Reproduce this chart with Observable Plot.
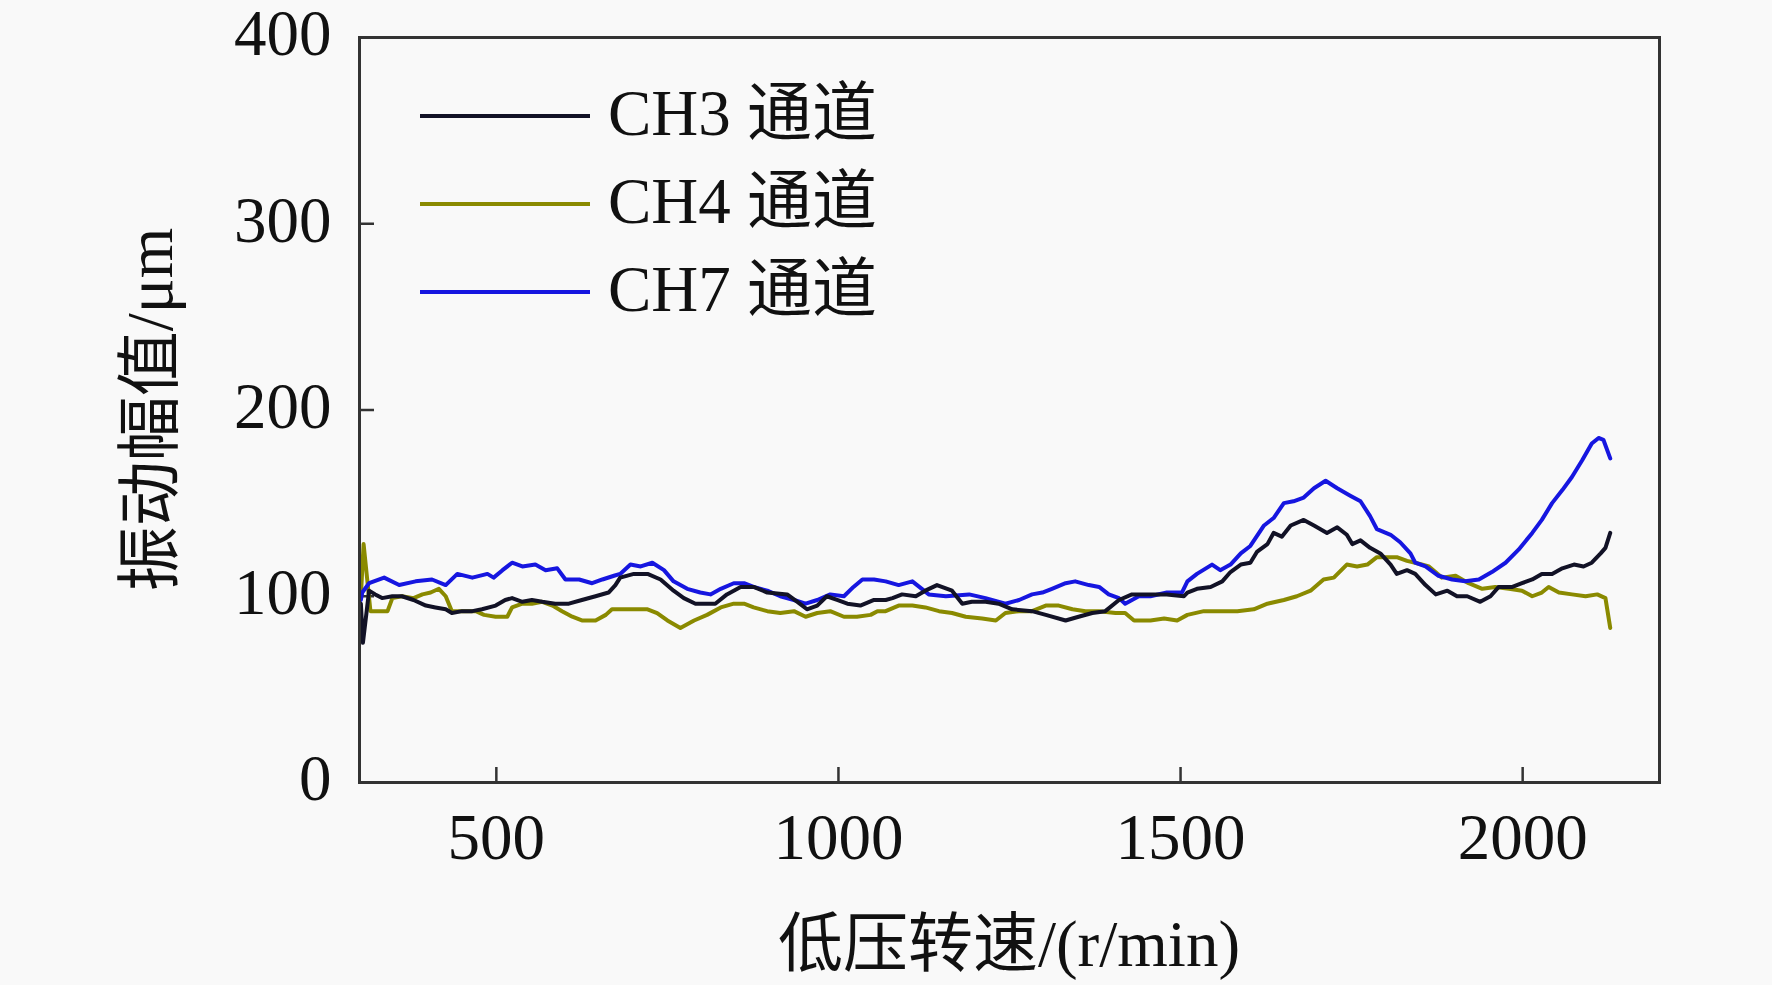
<!DOCTYPE html>
<html>
<head>
<meta charset="utf-8">
<script src="https://cdn.jsdelivr.net/npm/d3@7"></script>
<script src="https://cdn.jsdelivr.net/npm/@observablehq/plot@0.6"></script>
<style>
  html, body { margin: 0; padding: 0; background: #f9f9f9; }
  #chart svg { display: block; }
</style>
</head>
<body>
<div id="chart"></div>
<script>
// ---- data ----
const seriesNames = ["CH3 通道", "CH4 通道", "CH7 通道"];
const seriesColors = ["#121226", "#8a8a00", "#1616e0"];

const ch3Speed = [302,305,314,323,333,348,362,379,397,411,426,435,450,465,479,499,513,523,538,552,567,586,606,625,645,664,674,681,701,721,740,759,774,791,820,837,857,876,896,925,940,954,969,983,998,1013,1032,1052,1069,1079,1093,1113,1127,1144,1166,1181,1195,1215,1234,1254,1283,1303,1332,1351,1371,1390,1410,1429,1444,1456,1480,1505,1510,1524,1544,1561,1573,1588,1602,1612,1627,1636,1648,1661,1680,1695,1714,1729,1743,1751,1763,1777,1792,1807,1816,1831,1843,1858,1873,1890,1904,1919,1938,1953,1965,1985,1999,2014,2028,2043,2058,2075,2089,2101,2114,2121,2128];
const ch3Amp = [96,75,103,101,99,100,100,98,95,94,93,91,92,92,93,95,98,99,97,98,97,96,96,98,100,102,106,110,112,112,109,103,99,96,96,101,105,105,102,101,97,93,95,100,98,96,95,98,98,99,101,100,103,106,103,96,97,97,96,93,92,90,87,89,91,92,98,101,101,101,101,100,102,104,105,108,113,117,118,124,128,134,132,138,141,138,134,137,133,128,130,126,123,117,112,114,112,106,101,103,100,100,97,100,105,105,107,109,112,112,115,117,116,118,123,126,134];

const ch4Speed = [302,306,316,328,341,348,362,379,392,404,416,426,435,450,470,482,499,516,523,538,552,567,582,596,611,625,645,660,669,681,701,721,735,750,769,789,808,828,847,862,876,896,915,935,952,969,988,1008,1027,1047,1057,1069,1088,1108,1127,1147,1166,1186,1210,1230,1244,1264,1283,1303,1322,1342,1361,1381,1405,1419,1432,1444,1456,1476,1495,1510,1534,1558,1583,1607,1627,1651,1670,1690,1709,1724,1743,1758,1773,1787,1802,1816,1831,1843,1863,1882,1902,1921,1941,1960,1980,1999,2014,2028,2038,2053,2072,2092,2109,2121,2128];
const ch4Amp = [100,128,92,92,92,99,100,99,101,102,104,100,92,92,92,90,89,89,94,96,96,97,95,92,89,87,87,90,93,93,93,93,91,87,83,87,90,94,96,96,94,92,91,92,89,91,92,89,89,90,92,92,95,95,94,92,91,89,88,87,91,92,92,95,95,93,92,92,91,91,87,87,87,88,87,90,92,92,92,93,96,98,100,103,109,110,117,116,117,121,121,121,119,118,116,110,111,107,104,105,104,103,100,102,105,102,101,100,101,99,83];

const ch7Speed = [302,304,314,336,358,382,406,426,443,465,487,496,509,523,538,557,572,589,601,621,640,655,672,681,696,711,728,745,759,779,798,813,828,847,862,876,896,915,935,952,969,988,1008,1022,1035,1052,1069,1088,1108,1132,1157,1191,1215,1244,1264,1283,1298,1312,1332,1346,1366,1381,1395,1410,1419,1439,1456,1480,1502,1510,1524,1546,1558,1573,1588,1602,1622,1636,1651,1665,1680,1695,1712,1729,1748,1763,1777,1787,1807,1821,1836,1843,1858,1877,1897,1916,1936,1955,1975,1994,2014,2028,2043,2058,2072,2087,2101,2111,2118,2128];
const ch7Amp = [98,102,107,110,106,108,109,106,112,110,112,110,114,118,116,117,114,115,109,109,107,109,111,112,117,116,118,114,108,104,102,101,104,107,107,105,103,100,98,96,98,101,100,105,109,109,108,106,108,101,100,101,99,96,98,101,102,104,107,108,106,105,101,99,96,100,100,102,102,108,112,117,114,117,123,127,138,142,150,151,153,158,162,158,154,151,143,136,133,129,123,118,116,111,109,108,109,113,118,125,134,141,150,157,164,173,182,185,184,174];

const xTicks = [500, 1000, 1500, 2000];
const yTicks = [0, 100, 200, 300, 400];
const xTitle = "低压转速/(r/min)";
const yTitle = "振动幅值/μm";

// ---- build table ----
const rows = [];
[[ch3Speed, ch3Amp], [ch4Speed, ch4Amp], [ch7Speed, ch7Amp]].forEach(([xs, ys], i) => {
  xs.forEach((x, j) => rows.push({series: seriesNames[i], speed: x, amp: ys[j]}));
});

const W = 1772, H = 985;
const mL = 359, mR = 113, mT = 37, mB = 203;
const serif = "'Liberation Serif', 'Times New Roman', 'Noto Sans CJK SC', serif";
const FS = 65;
const plain = d => String(d);

const chart = Plot.plot({
  width: W, height: H,
  marginLeft: mL, marginRight: mR, marginTop: mT, marginBottom: mB,
  style: {background: "#f9f9f9", fontFamily: serif, color: "#111", overflow: "visible"},
  x: {domain: [300, 2200]},
  y: {domain: [0, 400]},
  color: {domain: seriesNames, range: seriesColors},
  marks: [
    Plot.axisX(xTicks, {tickSize: 0, tickPadding: 30, fontSize: FS, label: null, fill: "#111", tickFormat: plain}),
    Plot.axisX(xTicks, {tickSize: -15, tickFormat: () => "", label: null, stroke: "#333", strokeWidth: 2.5}),
    Plot.axisY(yTicks, {tickSize: 0, tickPadding: 28, fontSize: FS, label: null, dy: -3, fill: "#111", tickFormat: plain}),
    Plot.axisY(yTicks, {tickSize: -15, tickFormat: () => "", label: null, stroke: "#333", strokeWidth: 2.5}),
    Plot.line(rows.filter(d => d.series === seriesNames[1]), {x: "speed", y: "amp", stroke: "series", strokeWidth: 4, curve: "linear"}),
    Plot.line(rows.filter(d => d.series === seriesNames[2]), {x: "speed", y: "amp", stroke: "series", strokeWidth: 4, curve: "linear"}),
    Plot.line(rows.filter(d => d.series === seriesNames[0]), {x: "speed", y: "amp", stroke: "series", strokeWidth: 4, curve: "linear"}),
    Plot.frame({stroke: "#333", strokeWidth: 3})
  ]
});

const svg = d3.select(chart);

// axis titles
svg.append("text")
  .attr("x", mL + (W - mL - mR) / 2)
  .attr("y", 966)
  .attr("text-anchor", "middle")
  .attr("font-family", serif)
  .attr("font-size", FS)
  .attr("fill", "#111")
  .text(xTitle);

svg.append("text")
  .attr("transform", `translate(172, ${mT + (H - mT - mB) / 2}) rotate(-90)`)
  .attr("text-anchor", "middle")
  .attr("font-family", serif)
  .attr("font-size", FS)
  .attr("fill", "#111")
  .text(yTitle);

// legend inside the plot area
const legend = svg.append("g");
seriesNames.forEach((name, i) => {
  const cy = 116 + i * 88;
  legend.append("line")
    .attr("x1", 420).attr("x2", 590)
    .attr("y1", cy).attr("y2", cy)
    .attr("stroke", seriesColors[i]).attr("stroke-width", 4);
  legend.append("text")
    .attr("x", 608).attr("y", cy + 19)
    .attr("text-anchor", "start")
    .attr("font-family", serif)
    .attr("font-size", FS)
    .attr("fill", "#111")
    .text(name);
});

document.getElementById("chart").appendChild(chart);
</script>
</body>
</html>
